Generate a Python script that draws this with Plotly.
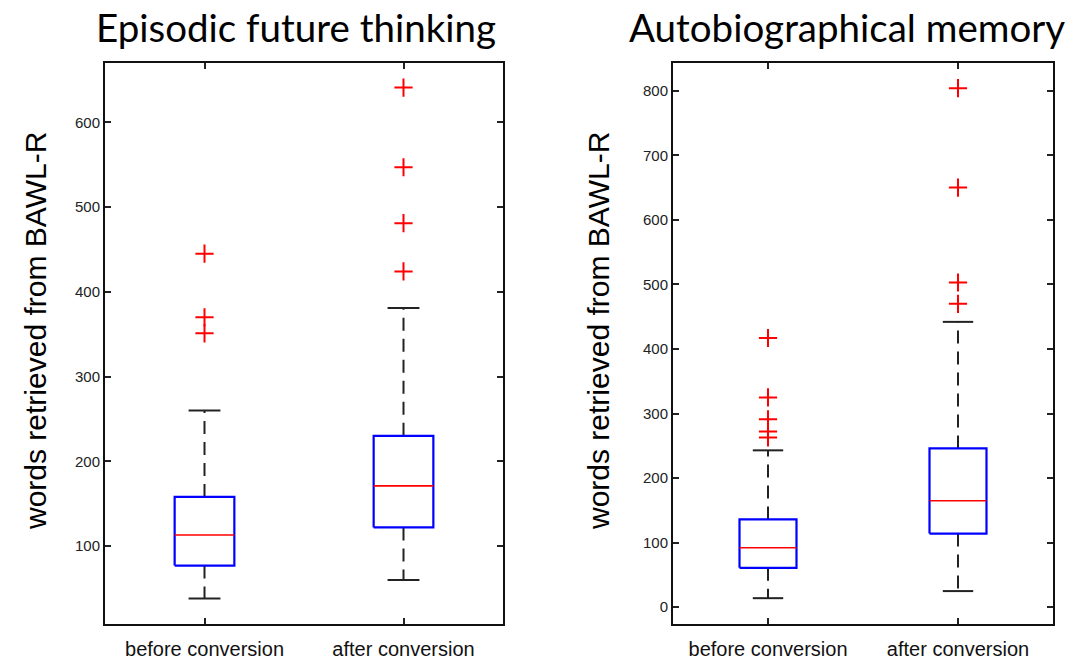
import plotly.graph_objects as go

# Summary statistics per condition (words retrieved from BAWL-R)
groups = ["before conversion", "after conversion"]

eft_lower_whisker = [38, 60]
eft_q1 = [77, 122]
eft_median = [113, 171]
eft_q3 = [158, 230]
eft_upper_whisker = [260, 381]
eft_outliers = [[445, 370, 351], [641, 547, 481, 424]]

abm_lower_whisker = [14, 25]
abm_q1 = [61, 114]
abm_median = [92, 165]
abm_q3 = [136, 246]
abm_upper_whisker = [243, 442]
abm_outliers = [[417, 325, 291, 272, 263], [804, 650, 503, 470]]

eft_ticks = [100, 200, 300, 400, 500, 600]
abm_ticks = [0, 100, 200, 300, 400, 500, 600, 700, 800]

BOX_W = 0.3
CAP_W = 0.16

fig = go.Figure()


def add_boxes(xref, yref, lw, q1, med, q3, uw, outl):
    for i in range(len(groups)):
        c = i + 1
        # whiskers (dashed)
        fig.add_trace(go.Scatter(
            x=[c, c, None, c, c], y=[q3[i], uw[i], None, q1[i], lw[i]],
            mode="lines", line=dict(color="#222222", width=2, dash="13px,8px"),
            xaxis=xref, yaxis=yref, hoverinfo="skip", showlegend=False))
        # whisker caps
        fig.add_trace(go.Scatter(
            x=[c - CAP_W / 2, c + CAP_W / 2, None, c - CAP_W / 2, c + CAP_W / 2],
            y=[uw[i], uw[i], None, lw[i], lw[i]],
            mode="lines", line=dict(color="#222222", width=2),
            xaxis=xref, yaxis=yref, hoverinfo="skip", showlegend=False))
        # box
        fig.add_trace(go.Scatter(
            x=[c - BOX_W / 2, c + BOX_W / 2, c + BOX_W / 2, c - BOX_W / 2, c - BOX_W / 2],
            y=[q1[i], q1[i], q3[i], q3[i], q1[i]],
            mode="lines", line=dict(color="#0000ff", width=2.2),
            fill="toself", fillcolor="white",
            xaxis=xref, yaxis=yref, hoverinfo="skip", showlegend=False))
        # median
        fig.add_trace(go.Scatter(
            x=[c - BOX_W / 2, c + BOX_W / 2], y=[med[i], med[i]],
            mode="lines", line=dict(color="#ff0000", width=1.6),
            xaxis=xref, yaxis=yref, hoverinfo="skip", showlegend=False))
        # outliers
        fig.add_trace(go.Scatter(
            x=[c] * len(outl[i]), y=outl[i], mode="markers",
            marker=dict(symbol="cross-thin", size=13,
                        line=dict(color="#ff0000", width=2)),
            xaxis=xref, yaxis=yref, hoverinfo="skip", showlegend=False))


add_boxes("x", "y", eft_lower_whisker, eft_q1, eft_median, eft_q3,
          eft_upper_whisker, eft_outliers)
add_boxes("x2", "y2", abm_lower_whisker, abm_q1, abm_median, abm_q3,
          abm_upper_whisker, abm_outliers)

W, H = 1083, 661

axis_common = dict(
    showline=True, linecolor="#111111", linewidth=2, mirror="ticks",
    ticks="inside", ticklen=6, tickwidth=1.5, tickcolor="#222222",
    showgrid=False, zeroline=False,
    tickfont=dict(family="Liberation Sans, Arial, sans-serif", size=15, color="#222222"),
)

xcommon = dict(axis_common)
xcommon.update(tickvals=[1, 2], ticktext=groups, range=[0.5, 2.5], ticklabelstandoff=6,
               tickfont=dict(family="Liberation Sans, Arial, sans-serif", size=20, color="#111111"))

ydomain = [1 - 624 / H, 1 - 63 / H]

title_font = dict(family="Lato, sans-serif", size=38.5, color="black")
ytitle_font = dict(family="Liberation Sans, Arial, sans-serif", size=30, color="black")

fig.update_layout(
    width=W, height=H,
    margin=dict(l=0, r=0, t=0, b=0),
    paper_bgcolor="white", plot_bgcolor="white",
    xaxis=dict(xcommon, domain=[105 / W, 503 / W], anchor="y"),
    yaxis=dict(axis_common, domain=ydomain, range=[8, 670], tickvals=eft_ticks, anchor="x"),
    xaxis2=dict(xcommon, domain=[673 / W, 1053 / W], anchor="y2"),
    yaxis2=dict(axis_common, domain=ydomain, range=[-26, 843], tickvals=abm_ticks, anchor="x2"),
    annotations=[
        dict(text="Episodic future thinking", x=296 / W, y=1 - 27 / H, xref="paper", yref="paper",
             showarrow=False, xanchor="center", yanchor="middle", font=title_font),
        dict(text="Autobiographical memory", x=847 / W, y=1 - 27 / H, xref="paper", yref="paper",
             showarrow=False, xanchor="center", yanchor="middle", font=title_font),
        dict(text="words retrieved from BAWL-R", x=35 / W, y=1 - 331 / H, xref="paper", yref="paper",
             showarrow=False, textangle=-90, xanchor="center", yanchor="middle", font=ytitle_font),
        dict(text="words retrieved from BAWL-R", x=598 / W, y=1 - 331 / H, xref="paper", yref="paper",
             showarrow=False, textangle=-90, xanchor="center", yanchor="middle", font=ytitle_font),
    ],
)

fig.write_html("out.html")
